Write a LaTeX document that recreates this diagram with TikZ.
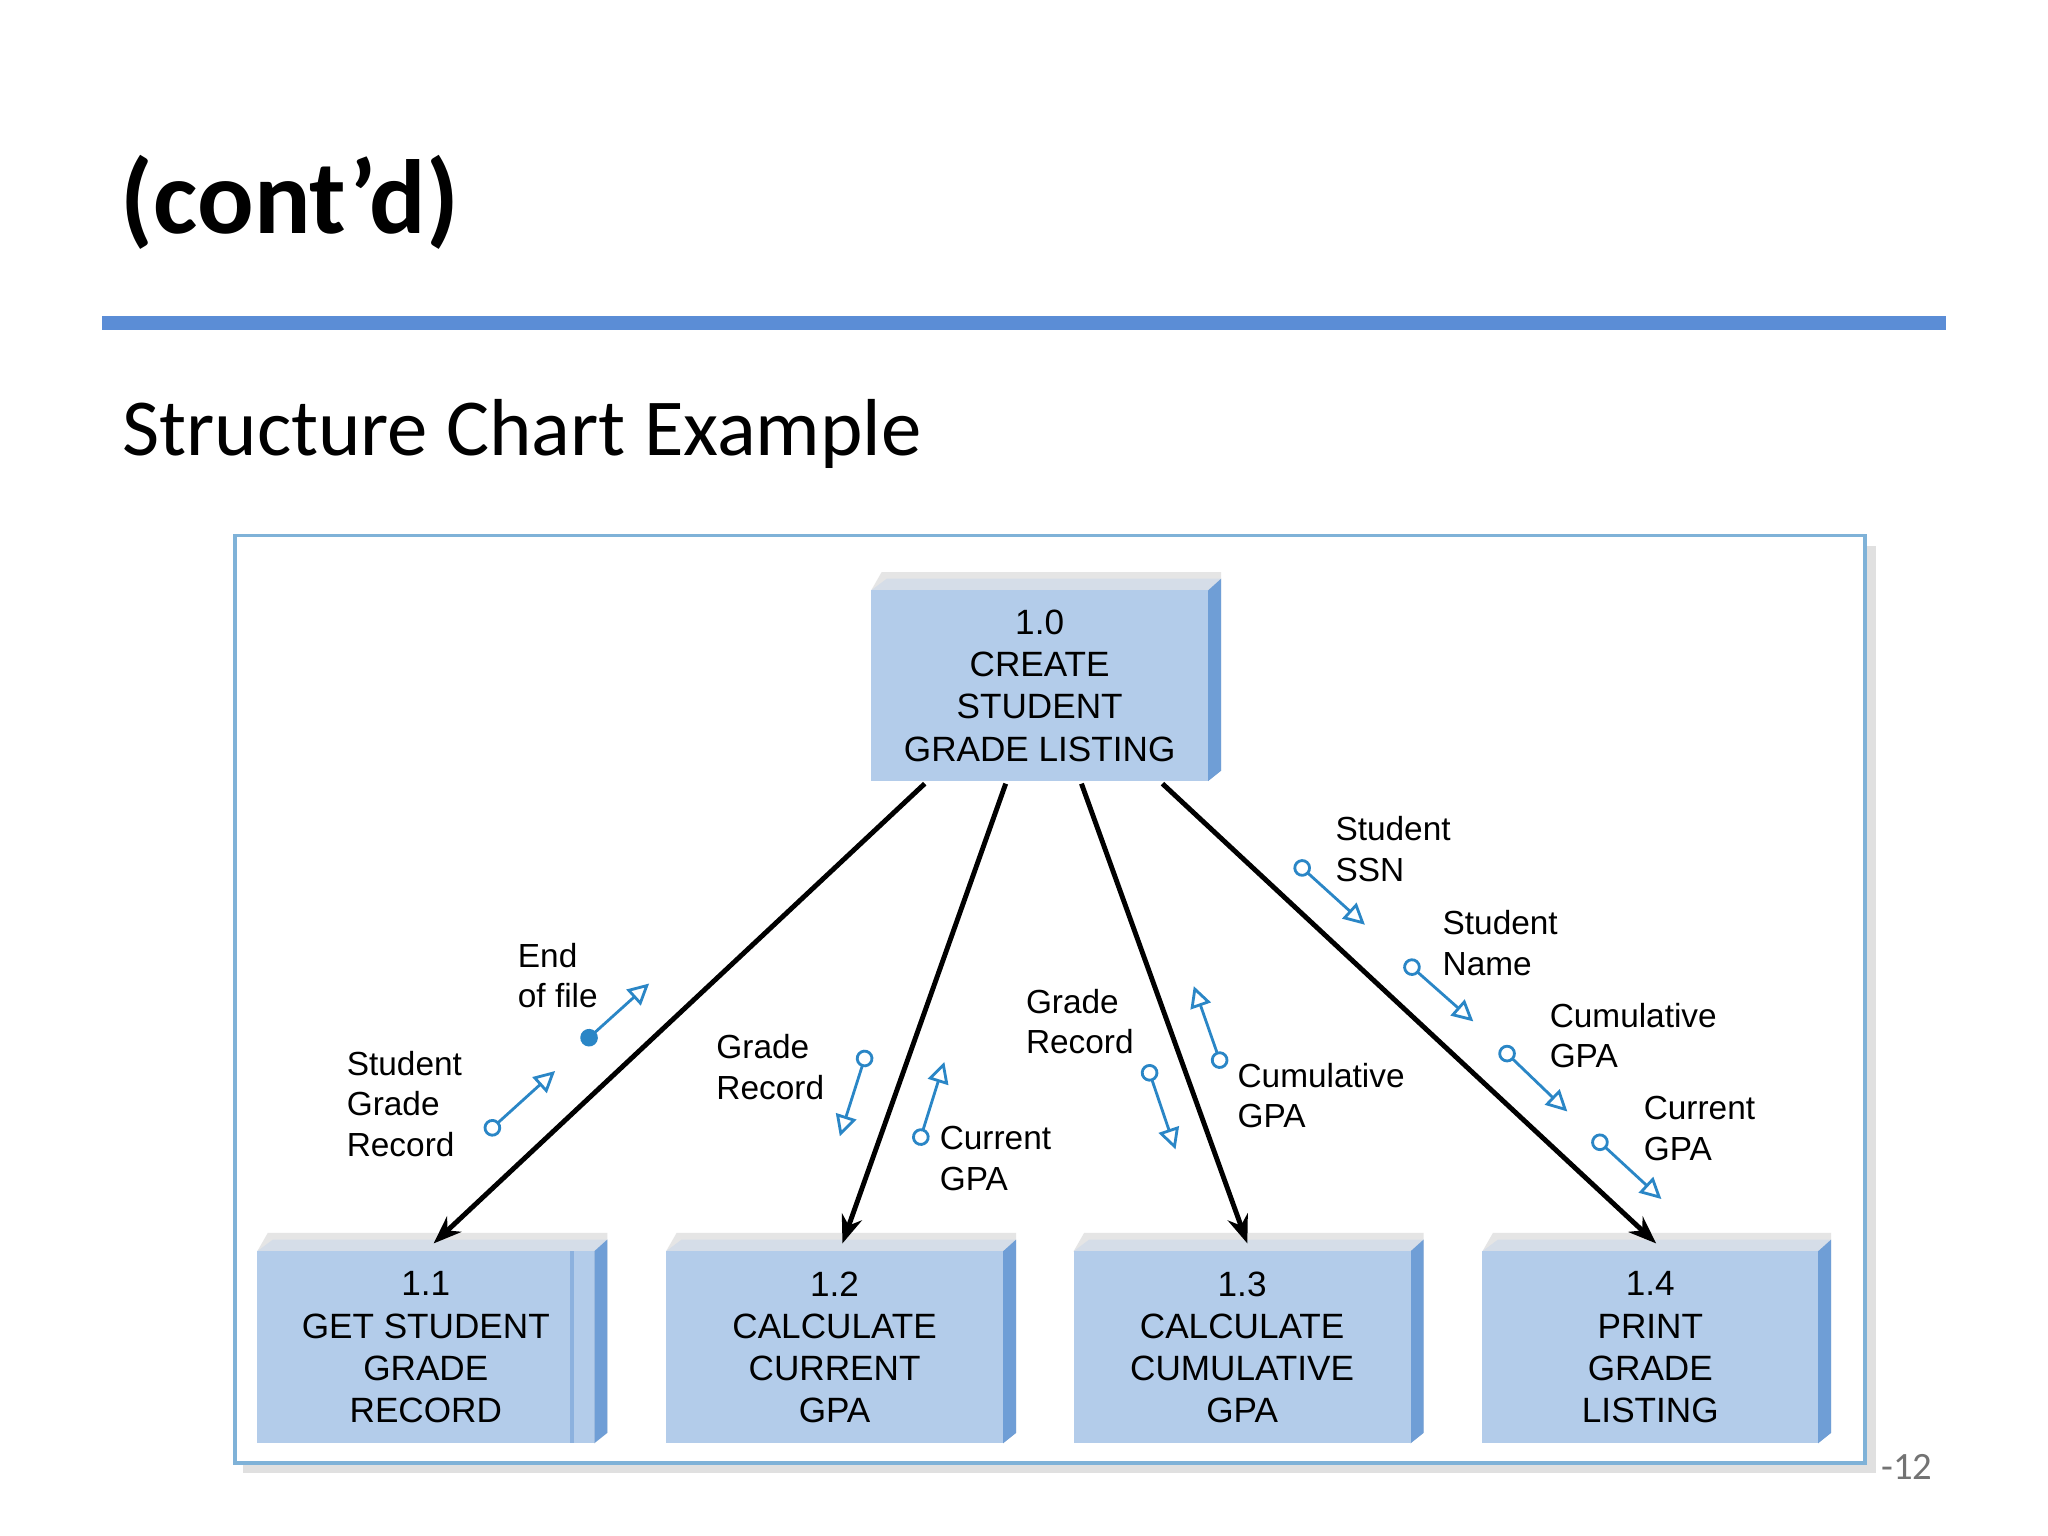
\documentclass[tikz,border=0pt]{standalone}
\usepackage{fontspec}
\setmainfont{Liberation Sans}
\newfontfamily\carl{Carlito}
\usetikzlibrary{arrows.meta,shadows}
\definecolor{boxfill}{HTML}{B3CCEA}
\definecolor{boxside}{HTML}{6F9ED6}
\definecolor{boxtop}{HTML}{D5DDE8}
\definecolor{rule}{HTML}{5B8DD6}
\definecolor{cpl}{HTML}{2A86C6}
\definecolor{frame}{HTML}{7FB2D8}
\begin{document}
\begin{tikzpicture}[x=0.01306cm,y=-0.01306cm,
  lbl/.style={font=\fontsize{9.5}{11.5}\selectfont,align=left,anchor=west,inner sep=0},
  boxtxt/.style={font=\fontsize{10}{12}\selectfont,align=center,inner sep=0},
  couple/.style={cpl,line width=0.8pt,{Circle[open,length=5pt,width=5pt]}-{Triangle[open,length=6pt,width=6pt]}},
  flag/.style={cpl,line width=0.8pt,{Circle[length=5pt,width=5pt]}-{Triangle[open,length=6pt,width=6pt]}},
  call/.style={line width=1.4pt,-{Stealth[length=8pt,width=6pt]}}]
\useasboundingbox (0,0) rectangle (1568,1176);
\fill[white] (0,0) rectangle (1568,1176);
\node[font=\carl\bfseries\fontsize{30}{36}\selectfont,anchor=west,inner sep=0] (title) at (92,155) {(cont’d)};
\fill[rule] (78,242) rectangle (1490,253);
\node[font=\carl\fontsize{23}{28}\selectfont,anchor=west,inner sep=0] (sub) at (93,332) {Structure Chart Example};
\fill[black!12] (186,418) rectangle (1436,1128);
\draw[frame,fill=white,line width=1pt] (180,410) rectangle (1428,1120);
\node[font=\carl\fontsize{11}{13}\selectfont,text=black!55,anchor=west,inner sep=0] (pg) at (1440,1123) {-12};
% boxes
\newcommand{\mybox}[6]{%
 \fill[black!10] (#1+8,#2-14) -- (#3+10,#2-14) -- (#3+10,#4-8) -- (#3,#4) -- (#3,#2) -- (#1,#2) -- cycle;
 \fill[boxtop] (#1,#2) -- (#1+12,#2-9) -- (#3+10,#2-9) -- (#3,#2) -- cycle;
 \fill[boxside] (#3,#2) -- (#3+10,#2-9) -- (#3+10,#4-8) -- (#3,#4) -- cycle;
 \fill[boxfill] (#1,#2) rectangle (#3,#4);
 \node[boxtxt] (#5) at ({(#1+#3)/2},{(#2+#4)/2}) {#6};}
\mybox{667}{452}{925}{598}{top}{1.0\\CREATE\\STUDENT\\GRADE LISTING}
\mybox{197}{958}{455}{1105}{b1}{1.1\\GET STUDENT\\GRADE\\RECORD}
\draw[boxside!80,line width=1pt] (438,958) -- (438,1105);
\mybox{510}{958}{768}{1105}{b2}{1.2\\CALCULATE\\CURRENT\\GPA}
\mybox{822}{958}{1080}{1105}{b3}{1.3\\CALCULATE\\CUMULATIVE\\GPA}
\mybox{1135}{958}{1392}{1105}{b4}{1.4\\PRINT\\GRADE\\LISTING}
% calls
\coordinate (t1) at (708,600); \coordinate (e1) at (332,952);
\coordinate (t2) at (770,600); \coordinate (e2) at (645,952);
\coordinate (t3) at (828,600); \coordinate (e3) at (955,952);
\coordinate (t4) at (890,600); \coordinate (e4) at (1268,952);
\draw[call] (t1) -- (e1); \draw[call] (t2) -- (e2);
\draw[call] (t3) -- (e3); \draw[call] (t4) -- (e4);
% couples
\coordinate (c1a) at (372,868); \coordinate (c1b) at (425,820);
\coordinate (c2a) at (446,799); \coordinate (c2b) at (497,753);
\coordinate (c3a) at (664,804); \coordinate (c3b) at (643,870);
\coordinate (c4a) at (703,877); \coordinate (c4b) at (723,813);
\coordinate (c5a) at (878,815); \coordinate (c5b) at (900,880);
\coordinate (c6a) at (936,818); \coordinate (c6b) at (914,755);
\coordinate (c7a) at (992,660); \coordinate (c7b) at (1045,708);
\coordinate (c8a) at (1076,736); \coordinate (c8b) at (1128,782);
\coordinate (c9a) at (1149,802); \coordinate (c9b) at (1200,851);
\coordinate (c10a) at (1220,870); \coordinate (c10b) at (1272,918);
\draw[couple] (c1a) -- (c1b);
\draw[flag] (c2a) -- (c2b);
\draw[couple] (c3a) -- (c3b);
\draw[couple] (c4a) -- (c4b);
\draw[couple] (c5a) -- (c5b);
\draw[couple] (c6a) -- (c6b);
\draw[couple] (c7a) -- (c7b);
\draw[couple] (c8a) -- (c8b);
\draw[couple] (c9a) -- (c9b);
\draw[couple] (c10a) -- (c10b);
% labels
\node[lbl] (l1) at (265,845) {Student\\Grade\\Record};
\node[lbl] (l2) at (396,747) {End\\of file};
\node[lbl] (l3) at (548,817) {Grade\\Record};
\node[lbl] (l4) at (719,887) {Current\\GPA};
\node[lbl] (l5) at (785,782) {Grade\\Record};
\node[lbl] (l6) at (947,839) {Cumulative\\GPA};
\node[lbl] (l7) at (1022,650) {Student\\SSN};
\node[lbl] (l8) at (1104,722) {Student\\Name};
\node[lbl] (l9) at (1186,793) {Cumulative\\GPA};
\node[lbl] (l10) at (1258,864) {Current\\GPA};
\end{tikzpicture}
\end{document}
